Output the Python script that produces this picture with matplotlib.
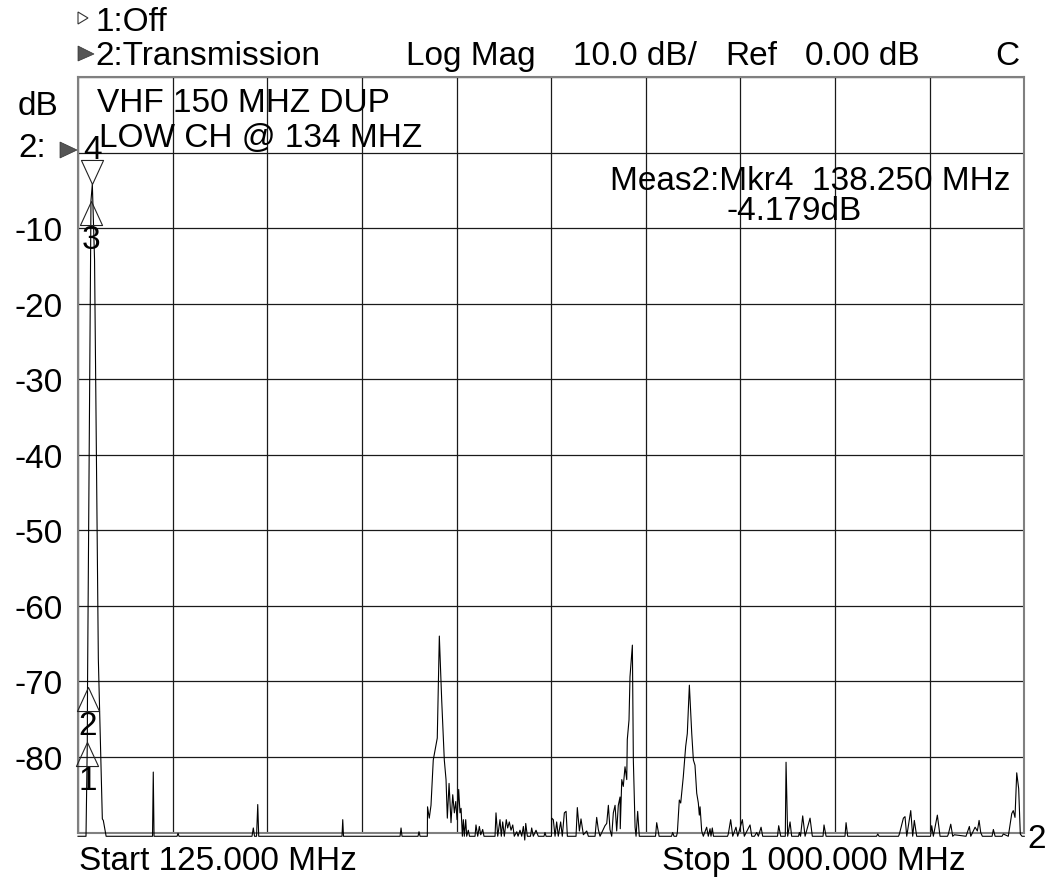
import numpy as np
import matplotlib.pyplot as plt
from matplotlib.path import Path
from matplotlib.patches import Polygon

W, H = 1046, 879
FONT = ['Liberation Sans', 'DejaVu Sans']
FS = 24

# trace 2 (transmission)
freq_mhz = [
    125.0, 132.4, 133.6, 133.8, 137.0, 138.25, 140.3, 143.8, 147.5, 148.4, 151.0,
    193.9, 194.6, 195.3, 216.6, 217.5, 218.4, 285.9, 287.1, 288.2, 290.1, 291.2, 292.1,
    369.1, 369.8, 370.5, 422.8, 423.7, 424.6, 439.4, 440.3, 441.3,
    448.0, 448.2, 449.8, 451.4, 453.5, 455.8, 457.2, 459.1, 461.3, 463.7, 465.3, 466.5,
    468.1, 469.9, 471.5, 473.0, 474.3, 475.5, 477.0, 478.2, 479.2, 480.4, 481.3, 482.2,
    483.5, 484.4, 485.9, 487.0, 492.1, 493.0, 494.6, 496.1, 497.4, 499.2, 500.4,
    510.6, 511.5, 513.1, 515.2, 516.4, 517.7, 519.2, 521.0, 522.3, 523.8, 525.4, 527.0,
    528.4, 530.7, 531.9, 533.7, 535.3, 536.8, 538.1, 539.0, 540.5, 543.4, 544.5, 546.0,
    548.5, 550.6, 555.9, 556.8, 557.8, 562.8, 563.0, 564.5, 566.1, 567.6, 569.1, 571.3,
    572.8, 574.7, 576.3, 577.5, 585.5, 586.7, 588.6, 590.1, 592.3, 595.4, 596.9,
    603.1, 604.6, 606.1, 607.7, 612.3, 613.9, 615.4, 616.9, 618.5, 620.0, 621.6, 623.1,
    624.6, 626.2, 626.4, 627.8, 629.2, 630.8, 632.4, 632.9, 634.5, 635.4, 637.6, 638.5,
    640.1, 641.0, 642.5, 644.0, 659.0, 660.1, 662.3, 673.8, 674.9, 676.1, 678.4, 679.2,
    681.0, 682.3, 684.7, 686.9, 688.4, 690.3, 692.5, 694.0, 695.5, 697.1, 698.6, 699.5,
    700.2, 701.7, 703.2, 706.3, 707.8, 709.4, 710.3, 711.5, 712.6,
    725.6, 726.3, 728.5, 730.4, 733.4, 735.0, 739.3, 741.1, 746.4, 748.0, 750.5, 752.6,
    754.1, 756.6, 758.1, 771.8, 772.9, 774.8, 779.0, 779.7, 781.2, 783.4, 784.9,
    791.2, 792.0, 793.1, 795.1, 797.3, 801.9, 804.0, 813.9, 814.8, 816.7,
    834.2, 835.2, 836.7, 863.4, 864.5, 865.7, 883.7, 884.5, 888.2, 889.7, 891.3, 892.8,
    895.0, 896.8, 898.3, 900.5, 913.3, 914.4, 915.9, 919.6, 922.1, 929.0, 929.8, 932.0,
    933.8, 935.3, 946.1, 949.2, 950.5, 954.5, 956.6, 958.2, 959.7, 961.2, 970.2, 971.4,
    973.0, 979.4, 980.6, 985.2, 988.4, 989.8, 991.4, 993.0, 994.8, 996.3, 997.9, 1000.0,
]
level_db = [
    -90.5, -90.5, -78.0, -70.8, -6.35, -4.18, -14.2, -67.0, -88.2, -88.4, -90.5,
    -90.5, -82.0, -90.5, -90.5, -90.1, -90.5, -90.5, -89.4, -90.5, -90.5, -86.3, -90.5,
    -90.5, -88.3, -90.5, -90.5, -89.4, -90.5, -90.5, -89.9, -90.5,
    -90.5, -86.6, -88.1, -86.4, -80.4, -78.6, -77.5, -64.0, -72.5, -80.4, -83.0, -88.1,
    -83.5, -88.7, -85.0, -87.4, -85.9, -88.3, -84.3, -87.4, -86.8, -90.5, -88.3, -90.5,
    -88.3, -90.5, -89.7, -90.5, -90.5, -89.0, -90.5, -89.2, -90.3, -89.6, -90.5,
    -90.5, -87.4, -90.5, -88.3, -90.5, -88.6, -90.5, -88.3, -89.4, -88.6, -89.7, -89.0,
    -90.5, -89.9, -90.5, -89.7, -90.5, -89.2, -91.0, -88.8, -90.5, -90.5, -89.4, -90.5,
    -89.7, -90.5, -90.5, -90.0, -90.5, -90.5, -88.1, -88.3, -90.5, -88.6, -90.5, -88.6,
    -90.5, -87.4, -87.2, -90.5, -90.5, -86.7, -89.8, -88.2, -90.3, -89.8, -90.5,
    -90.5, -88.0, -89.6, -90.5, -89.1, -88.8, -86.4, -89.6, -90.5, -87.4, -86.4, -89.8,
    -86.4, -85.3, -89.5, -83.0, -83.9, -81.3, -83.0, -77.7, -75.1, -69.4, -65.2, -80.4,
    -89.3, -90.5, -87.2, -90.5, -90.5, -88.7, -90.5, -90.5, -90.0, -90.5, -90.5, -90.0,
    -85.7, -86.1, -82.6, -78.6, -76.9, -70.5, -76.9, -80.4, -81.1, -84.8, -86.1, -87.7,
    -86.6, -89.8, -90.5, -89.3, -90.5, -89.5, -90.5, -89.4, -90.5,
    -90.5, -90.2, -88.3, -90.5, -89.3, -90.5, -88.3, -90.5, -89.0, -90.5, -90.5, -90.0,
    -90.5, -89.3, -90.5, -90.5, -89.1, -90.5, -90.5, -80.7, -90.5, -88.6, -90.5,
    -90.5, -90.0, -90.5, -87.8, -90.5, -88.1, -90.5, -90.5, -89.0, -90.5,
    -90.5, -88.7, -90.5, -90.5, -90.2, -90.5, -90.5, -90.2, -88.1, -87.9, -90.5, -89.1,
    -87.1, -90.5, -88.4, -90.5, -90.5, -89.1, -90.5, -87.7, -90.5, -90.5, -90.2, -88.9,
    -90.5, -90.3, -90.5, -89.2, -90.5, -89.3, -89.8, -88.4, -90.0, -90.5, -90.5, -89.6,
    -90.5, -90.5, -90.2, -90.5, -87.5, -87.1, -88.0, -82.1, -84.2, -90.2, -90.5, -90.5,
]

# markers
mkr_names = ['1', '2', '3', '4']
mkr_freq = [133.6, 133.8, 137.0, 138.25]
mkr_db = [-78.0, -70.8, -6.35, -4.179]

ytick_db = [-10, -20, -30, -40, -50, -60, -70, -80]


def fx(x):
    return x / W


def fy(y):
    return 1 - y / H


def ftext(x, y, s, **kw):
    fig.text(fx(x), fy(y), s, fontsize=FS, family=FONT, va='baseline', **kw)


fig = plt.figure(figsize=(W / 100, H / 100), dpi=100)
ax = fig.add_axes([fx(78), fy(833.5), (1024.3 - 78) / W, (833.5 - 78) / H])
ax.set_xlim(125, 1000)
ax.set_ylim(-90, 10)
ax.set_xticks(np.linspace(125, 1000, 11))
ax.set_yticks(np.arange(-90, 11, 10))
ax.grid(True, color='#1a1a1a', lw=0.9)
ax.tick_params(length=0, labelbottom=False, labelleft=False)
for sp in ax.spines.values():
    sp.set_color('#808080')
    sp.set_linewidth(1.5)

ax.plot(freq_mhz, level_db, color='black', lw=0.8, clip_on=False, zorder=3)

# marker triangles, tip on the trace point
up = Path([(0, 0), (-0.46, -1), (0.46, -1), (0, 0)],
          [Path.MOVETO, Path.LINETO, Path.LINETO, Path.CLOSEPOLY])
down = Path([(0, 0), (-0.46, 1), (0.46, 1), (0, 0)],
            [Path.MOVETO, Path.LINETO, Path.LINETO, Path.CLOSEPOLY])
for name, f, d in zip(mkr_names, mkr_freq, mkr_db):
    mk = down if name == '4' else up
    ax.plot([f], [d], ls='none', marker=mk, ms=34.6, mfc='none', mec='#222222',
            mew=0.8, clip_on=False, zorder=4)
    off = 26 if name == '4' else -47
    ax.annotate(name, (f, d), xytext=(0, off), textcoords='offset pixels',
                ha='center', va='baseline', fontsize=FS, family=FONT,
                annotation_clip=False, zorder=5)

# y labels
for v in ytick_db:
    ax.text(-15 / 946.3, v, str(v), transform=ax.get_yaxis_transform(),
            ha='right', va='center_baseline', fontsize=FS, family=FONT)

# header
fig.patches.append(Polygon([(fx(78), fy(13)), (fx(78), fy(25)), (fx(88), fy(19))],
                           closed=True, fill=False, ec='#333333', lw=0.8,
                           transform=fig.transFigure))
fig.patches.append(Polygon([(fx(78), fy(47)), (fx(78), fy(62)), (fx(94), fy(55))],
                           closed=True, fc='#555555', ec='#333333', lw=0.5,
                           transform=fig.transFigure))
fig.patches.append(Polygon([(fx(60), fy(143)), (fx(60), fy(159)), (fx(77), fy(151))],
                           closed=True, fc='#555555', ec='#333333', lw=0.5,
                           transform=fig.transFigure))
ftext(96, 31, '1:Off')
ftext(95, 65, '2:Transmission')
ftext(406, 65, 'Log Mag')
ftext(573, 65, '10.0 dB/')
ftext(725, 65, 'Ref')
ftext(805, 65, '0.00 dB')
ftext(995, 65, 'C')
ftext(18, 115, 'dB')
ftext(18, 157, '2:')

ftext(97, 112, 'VHF 150 MHZ DUP')
ftext(99, 147, 'LOW CH @ 134 MHZ')
ftext(610, 190, 'Meas2:Mkr4  138.250 MHz')
ftext(727, 220, '-4.179dB')

ftext(79, 870, 'Start 125.000 MHz')
ftext(662, 870, 'Stop 1 000.000 MHz')
ftext(1027, 848, '2')

fig.savefig('out.png', dpi=100)
